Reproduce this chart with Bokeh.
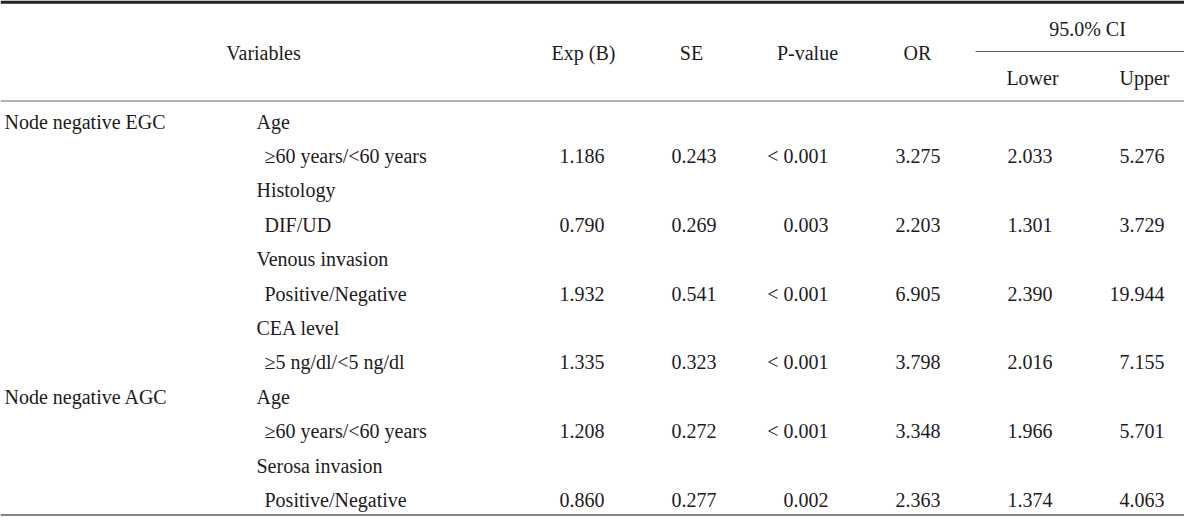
from bokeh.plotting import figure
from bokeh.models import ColumnDataSource, Range1d, Span
from bokeh.core.properties import value
from bokeh.embed import file_html
from bokeh.resources import INLINE

# ---- data ----
groups = ["Node negative EGC", "Node negative AGC"]
variables = ["Age", "Histology", "Venous invasion", "CEA level", "Age", "Serosa invasion"]
levels = ["≥60 years/<60 years", "DIF/UD", "Positive/Negative", "≥5 ng/dl/<5 ng/dl",
          "≥60 years/<60 years", "Positive/Negative"]
var_group = [0, 0, 0, 0, 1, 1]
exp_b = [1.186, 0.790, 1.932, 1.335, 1.208, 0.860]
se = [0.243, 0.269, 0.541, 0.323, 0.272, 0.277]
p_value = ["< 0.001", "0.003", "< 0.001", "< 0.001", "< 0.001", "0.002"]
odds_ratio = [3.275, 2.203, 6.905, 3.798, 3.348, 2.363]
ci_lower = [2.033, 1.301, 2.390, 2.016, 1.966, 1.374]
ci_upper = [5.276, 3.729, 19.944, 7.155, 5.701, 4.063]

header_labels = ["Variables", "Exp (B)", "SE", "P-value", "OR"]
ci_label = "95.0% CI"
ci_sub = ["Lower", "Upper"]

# ---- layout ----
FONT = value("Liberation Serif")
FS = "20px"
TXT = "#1e1b1c"
ROW0, ROWH = 121, 34.4

p = figure(width=1184, height=516, x_range=Range1d(0, 1184), y_range=Range1d(516, 0),
           toolbar_location=None, output_backend="svg", min_border=0,
           x_axis_location=None, y_axis_location=None)
p.grid.visible = False
p.outline_line_color = None
p.background_fill_color = "white"
p.border_fill_color = "white"

# rules
p.add_layout(Span(location=1.6, dimension="width", line_color="#231f20", line_width=3.4))
p.add_layout(Span(location=100.5, dimension="width", line_color="#9a9a9a", line_width=1.6))
p.add_layout(Span(location=514.5, dimension="width", line_color="#5e5e5e", line_width=1.6))
p.segment(x0=[975], y0=[51], x1=[1200], y1=[51], line_color="#5a5a5a", line_width=1.1)

# header
hx = [263, 583, 691, 807, 917]
p.text(x=hx, y=[52] * 5, text=header_labels, text_align="center", text_baseline="middle",
       text_font=FONT, text_font_size=FS, text_color=TXT)
p.text(x=[1087], y=[28], text=[ci_label], text_align="center", text_baseline="middle",
       text_font=FONT, text_font_size=FS, text_color=TXT)
p.text(x=[1032, 1144], y=[77, 77], text=ci_sub, text_align="center", text_baseline="middle",
       text_font=FONT, text_font_size=FS, text_color=TXT)

# body
grp_y, grp_t = [], []
var_y, lvl_y = [], []
seen = set()
for i, g in enumerate(var_group):
    yv = ROW0 + ROWH * (2 * i)
    var_y.append(yv)
    lvl_y.append(yv + ROWH)
    if g not in seen:
        seen.add(g)
        grp_y.append(yv)
        grp_t.append(groups[g])

p.text(x=[4] * len(grp_t), y=grp_y, text=grp_t, text_align="left", text_baseline="middle",
       text_font=FONT, text_font_size=FS, text_color=TXT)
p.text(x=[256] * len(variables), y=var_y, text=variables, text_align="left", text_baseline="middle",
       text_font=FONT, text_font_size=FS, text_color=TXT)
p.text(x=[264] * len(levels), y=lvl_y, text=levels, text_align="left", text_baseline="middle",
       text_font=FONT, text_font_size=FS, text_color=TXT)

cols = [([f"{v:.3f}" for v in exp_b], 604),
        ([f"{v:.3f}" for v in se], 716),
        (p_value, 828),
        ([f"{v:.3f}" for v in odds_ratio], 940),
        ([f"{v:.3f}" for v in ci_lower], 1052),
        ([f"{v:.3f}" for v in ci_upper], 1164)]
for texts, xr in cols:
    src = ColumnDataSource(dict(x=[xr] * len(texts), y=lvl_y, t=texts))
    p.text(x="x", y="y", text="t", source=src, text_align="right", text_baseline="middle",
           text_font=FONT, text_font_size=FS, text_color=TXT)

open("out.html", "w").write(file_html(p, INLINE))
